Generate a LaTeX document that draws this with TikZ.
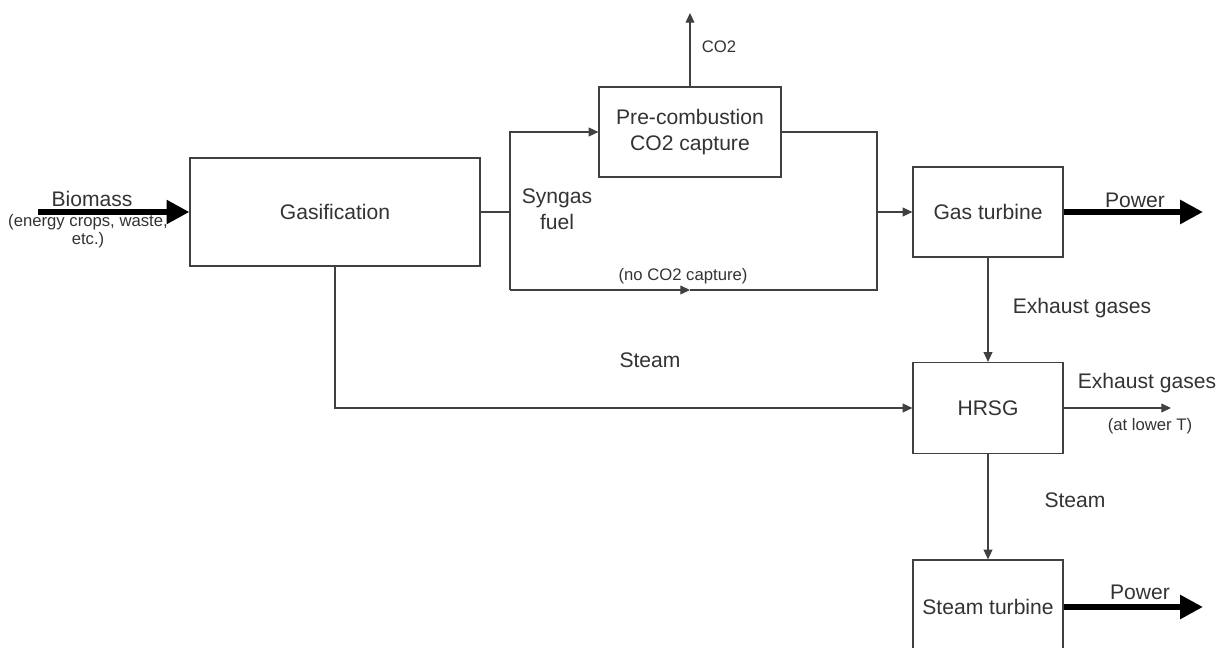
\documentclass[tikz,border=0pt]{standalone}
\usepackage{fontspec}
\setmainfont{Liberation Sans}
\usetikzlibrary{arrows.meta}

\begin{document}
\begin{tikzpicture}[x=0.02cm,y=-0.02cm,
  every node/.style={text=black!80},
  block/.style={draw=black!75,line width=0.7pt,fill=white,inner sep=0pt,align=center,
    minimum width=3cm,minimum height=1.8cm,font=\fontsize{12}{15}\selectfont},
  lbl/.style={align=center,inner sep=0pt,font=\fontsize{12}{15}\selectfont},
  small/.style={align=center,inner sep=0pt,font=\fontsize{9.5}{10.5}\selectfont},
  flow/.style={draw=black!75,line width=0.7pt,-{Triangle[length=5.5pt,width=5pt]}},
  line/.style={draw=black!75,line width=0.7pt},
  power/.style={draw=black,line width=3.4pt,-{Triangle[length=13pt,width=13pt]}}]
\useasboundingbox (0,0) rectangle (1224,648);

% boxes
\node[block,minimum width=5.8cm,minimum height=2.16cm] (gasif) at (335,212) {Gasification};
\node[block,minimum width=3.64cm] (precap) at (690,132) {Pre-combustion\\CO2 capture};
\node[block] (gasturb) at (988,212) {Gas turbine};
\node[block,minimum height=1.82cm] (hrsg) at (988,408) {HRSG};
\node[block,minimum height=1.88cm] (steamturb) at (988,607) {Steam turbine};

% free ends of connectors
\coordinate (bioin) at (38,212);
\coordinate (split) at (510,212);
\coordinate (bypassl) at (510,290);
\coordinate (bypassm) at (690,290);
\coordinate (bypassr) at (877,290);
\coordinate (merge) at (877,212);
\coordinate (co2out) at (690,13);
\coordinate (gtpow) at (1203,212);
\coordinate (stpow) at (1203,607);
\coordinate (exout) at (1171,408);

% biomass feed
\draw[power] (bioin) -- (gasif.west);
\node[lbl] (biomass) at (92,199) {Biomass};
\node[small] (biofeed) at (88,231) {(energy crops, waste,\\etc.)};

% syngas routes
\draw[line] (gasif.east) -- (split) -- (bypassl);
\draw[flow] (split) |- (precap.west);
\draw[flow] (bypassl) -- (bypassm);
\draw[line] (bypassm) -- (bypassr) -- (merge);
\draw[line] (precap.east) -| (merge);
\draw[flow] (merge) -- (gasturb.west);
\draw[flow] (precap.north) -- (co2out);
\node[lbl] (syngas) at (557,209) {Syngas\\fuel};
\node[small] (nocap) at (683,276) {(no CO2 capture)};
\node[small] (co2) at (719,47) {CO2};

% power island
\draw[power] (gasturb.east) -- (gtpow);
\node[lbl] (pow1) at (1135,200) {Power};
\draw[flow] (gasturb.south) -- (hrsg.north);
\node[lbl] (exh1) at (1082,308) {Exhaust gases};
\draw[flow] (gasif.south) |- (hrsg.west);
\node[lbl] (steam1) at (650,360) {Steam};
\draw[flow] (hrsg.east) -- (exout);
\node[lbl] (exh2) at (1147,383) {Exhaust gases};
\node[small] (lowt) at (1150,426) {(at lower T)};
\draw[flow] (hrsg.south) -- (steamturb.north);
\node[lbl] (steam2) at (1075,500) {Steam};
\draw[power] (steamturb.east) -- (stpow);
\node[lbl] (pow2) at (1140,592) {Power};
\end{tikzpicture}
\end{document}
